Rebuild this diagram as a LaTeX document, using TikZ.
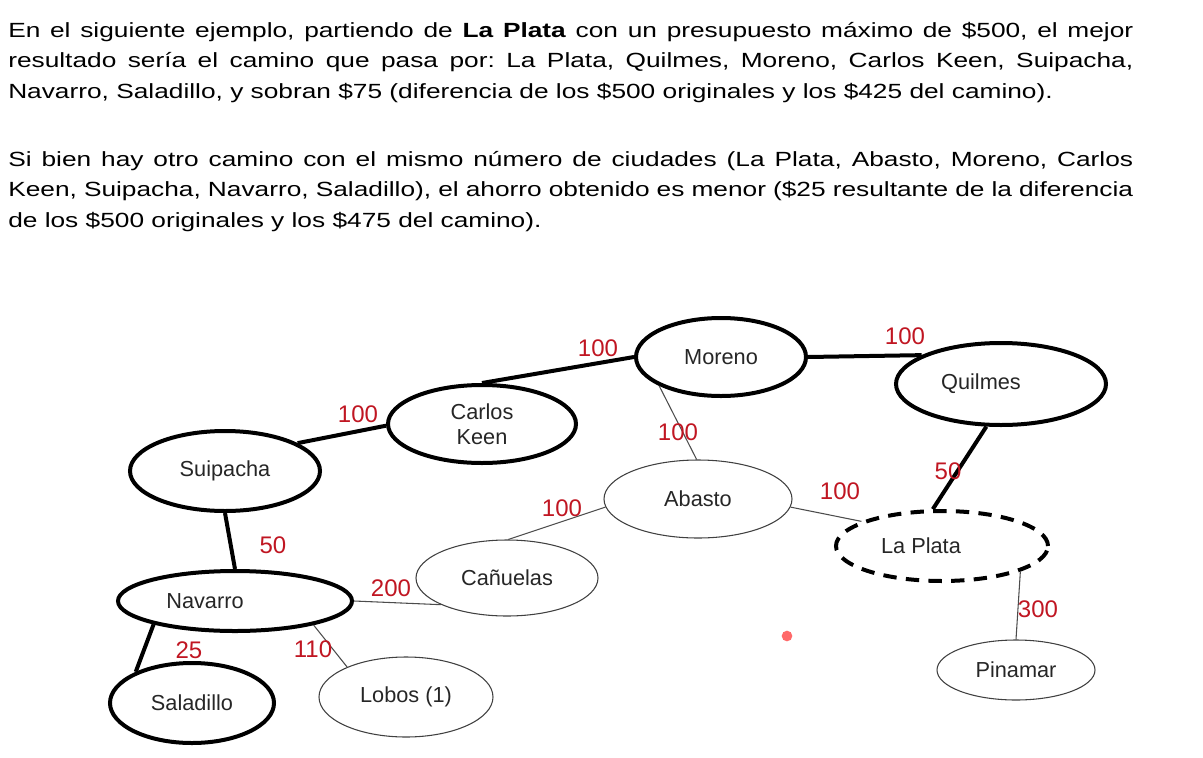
\documentclass[tikz,border=0pt]{standalone}
\usepackage{fontspec}
\setmainfont{Liberation Sans}
\newfontfamily\bodyfont[FakeStretch=1.28]{Liberation Sans}
\usetikzlibrary{shapes.geometric}
\definecolor{lbl}{RGB}{192,22,34}
\definecolor{dotred}{RGB}{255,105,105}
\begin{document}
\frenchspacing
\begin{tikzpicture}[x=0.75pt,y=-0.75pt,
  sz/.style 2 args={minimum width=#1*1.5pt, minimum height=#2*1.5pt},
  city/.style={ellipse, draw, inner sep=0pt, font=\fontsize{16.3}{19}\selectfont, text=black!85, align=center},
  boldcity/.style={city, line width=3pt},
  thincity/.style={city, line width=0.8pt, draw=black!75},
  dashcity/.style={city, line width=3pt, dash pattern=on 10pt off 7pt},
  boldedge/.style={line width=3pt},
  thinedge/.style={line width=0.8pt, draw=black!70},
  cost/.style={text=lbl, font=\fontsize{18}{20}\selectfont, inner sep=0pt},
  line/.style={anchor=base west, inner sep=0pt, font=\bodyfont\fontsize{15.4}{22}\selectfont},
]
\useasboundingbox (0,0) rectangle (1203,757);

% text
\node[line] (t1) at (8,37) {\makebox[843.75pt][s]{En el siguiente ejemplo, partiendo de \textbf{La Plata} con un presupuesto máximo de \$500, el mejor}};
\node[line] (t2) at (8,67.7) {\makebox[843.75pt][s]{resultado sería el camino que pasa por: La Plata, Quilmes, Moreno, Carlos Keen, Suipacha,}};
\node[line] (t3) at (8,98.4) {Navarro, Saladillo, y sobran \$75 (diferencia de los \$500 originales y los \$425 del camino).};
\node[line] (t4) at (8,166) {\makebox[843.75pt][s]{Si bien hay otro camino con el mismo número de ciudades (La Plata, Abasto, Moreno, Carlos}};
\node[line] (t5) at (8,196.7) {\makebox[843.75pt][s]{Keen, Suipacha, Navarro, Saladillo), el ahorro obtenido es menor (\$25 resultante de la diferencia}};
\node[line] (t6) at (8,227.4) {de los \$500 originales y los \$475 del camino).};

% cities
\node[boldcity, sz={85}{39}] (mo) at (721,357) {Moreno};
\node[boldcity, sz={105}{41}, label={[font=\fontsize{16.3}{19}\selectfont, text=black!85, xshift=-15pt]center:Quilmes}] (qu) at (1001,384) {};
\node[boldcity, sz={94}{39}] (ck) at (482,424) {Carlos\\Keen};
\node[boldcity, sz={95}{40}] (su) at (225,471) {Suipacha};
\node[thincity, sz={94}{39}] (ab) at (698,499) {Abasto};
\node[dashcity, sz={106}{35}, label={[font=\fontsize{16.3}{19}\selectfont, text=black!85, xshift=-15.75pt]center:La Plata}] (lp) at (942,546) {};
\node[thincity, sz={91}{38}] (ca) at (507,578) {Cañuelas};
\node[boldcity, sz={117}{30}, label={[font=\fontsize{16.3}{19}\selectfont, text=black!85, xshift=-22.5pt]center:Navarro}] (na) at (235,601) {};
\node[boldcity, sz={82}{40}] (sa) at (192,703) {Saladillo};
\node[thincity, sz={87}{40}] (lo) at (406,697) {Lobos (1)};
\node[thincity, sz={79}{30}] (pi) at (1016,670) {Pinamar};

% connectors
\draw[boldedge] (su.21.7) -- (ck.181);
\draw[boldedge] (ck.north) -- (mo.west);
\draw[boldedge] (mo.east) -- (qu.160);
\draw[thinedge] (mo.205.5) -- (ab.92);
\draw[boldedge] (qu.251.6) -- (lp.104);
\draw[thinedge] (ab.-5) -- (lp.163.6);
\draw[thinedge] (ab.185) -- (ca.88);
\draw[boldedge] (su.south) -- (na.north);
\draw[thinedge] (na.east) -- (ca.202.7);
\draw[boldedge] (na.196.1) -- (sa.151.5);
\draw[thinedge] (na.343.9) -- (lo.153.8);
\draw[thinedge] (lp.-18.7) -- (pi.north);

% costs
\node[cost] (c1) at (598,348) {100};
\node[cost] (c2) at (358,414) {100};
\node[cost] (c3) at (905,336) {100};
\node[cost] (c4) at (678,432) {100};
\node[cost] (c5) at (948,471) {50};
\node[cost] (c6) at (840,491) {100};
\node[cost] (c7) at (562,508) {100};
\node[cost] (c8) at (273,545) {50};
\node[cost] (c9) at (391,588) {200};
\node[cost] (c10) at (189,650) {25};
\node[cost] (c11) at (313,649) {110};
\node[cost] (c12) at (1038,609) {300};

\node[circle, fill=dotred, inner sep=0pt, minimum size=8pt] (dot) at (787,636) {};
\end{tikzpicture}
\end{document}
